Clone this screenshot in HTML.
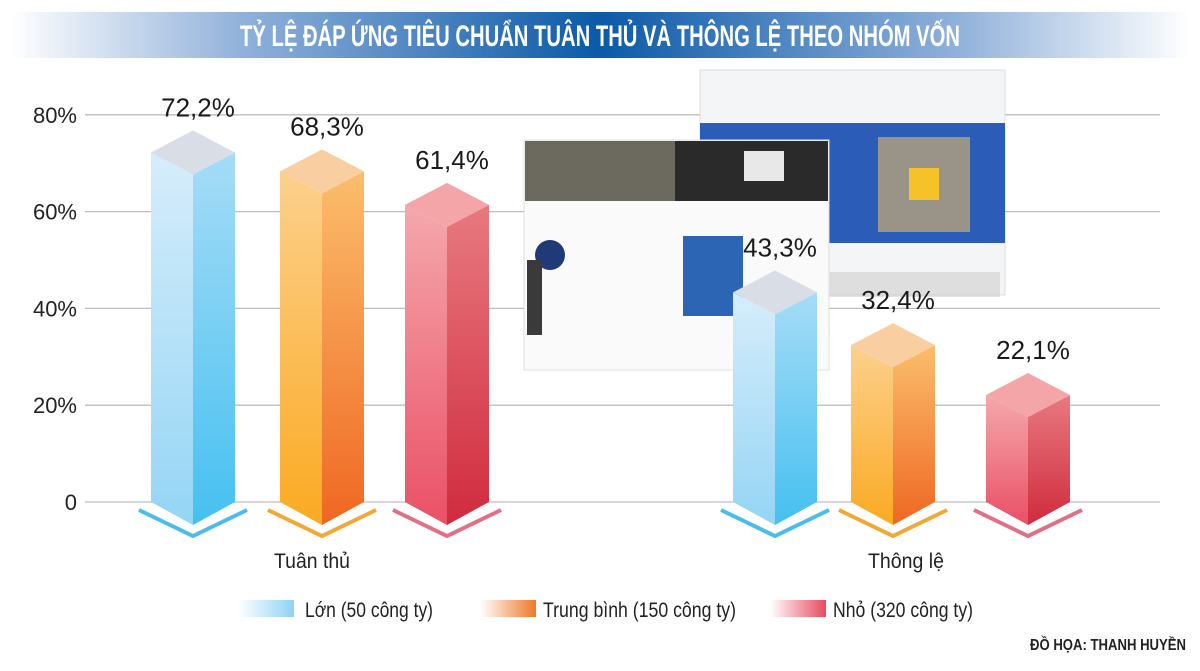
<!DOCTYPE html>
<html><head><meta charset="utf-8"><style>
html,body{margin:0;padding:0;background:#fff;}
svg{display:block;font-family:"Liberation Sans",sans-serif;}
</style></head><body>
<svg id="chart" width="1200" height="671" viewBox="0 0 1200 671" xmlns="http://www.w3.org/2000/svg">
<defs>
<linearGradient id="titleG" x1="0" x2="1" y1="0" y2="0">
<stop offset="0" stop-color="#ffffff"/><stop offset="0.2" stop-color="#8fb0da"/><stop offset="0.5" stop-color="#0b5aa8"/><stop offset="0.8" stop-color="#8fb0da"/><stop offset="1" stop-color="#ffffff"/></linearGradient>
<linearGradient id="bL0" x1="0" x2="0" y1="0" y2="1"><stop offset="0" stop-color="#d6edfb"/><stop offset="1" stop-color="#95d5f5"/></linearGradient>
<linearGradient id="bR0" x1="0" x2="0" y1="0" y2="1"><stop offset="0" stop-color="#a6dcf7"/><stop offset="1" stop-color="#45c0f0"/></linearGradient>
<linearGradient id="bL1" x1="0" x2="0" y1="0" y2="1"><stop offset="0" stop-color="#fcd08d"/><stop offset="1" stop-color="#fbaa22"/></linearGradient>
<linearGradient id="bR1" x1="0" x2="0" y1="0" y2="1"><stop offset="0" stop-color="#fbbe6c"/><stop offset="1" stop-color="#ef6722"/></linearGradient>
<linearGradient id="bL2" x1="0" x2="0" y1="0" y2="1"><stop offset="0" stop-color="#f5a8ac"/><stop offset="1" stop-color="#ea5066"/></linearGradient>
<linearGradient id="bR2" x1="0" x2="0" y1="0" y2="1"><stop offset="0" stop-color="#e8797f"/><stop offset="1" stop-color="#d02b3e"/></linearGradient>
<linearGradient id="lg0" x1="0" x2="1"><stop offset="0" stop-color="#fff"/><stop offset="1" stop-color="#8fd3f5"/></linearGradient>
<linearGradient id="lg1" x1="0" x2="1"><stop offset="0" stop-color="#fff"/><stop offset="1" stop-color="#f0782a"/></linearGradient>
<linearGradient id="lg2" x1="0" x2="1"><stop offset="0" stop-color="#fff"/><stop offset="1" stop-color="#e84a60"/></linearGradient>
</defs>
<rect x="10" y="12" width="1180" height="46" fill="url(#titleG)"/>
<text x="600" y="46" text-anchor="middle" fill="#fff" font-weight="bold" font-size="30" textLength="720" lengthAdjust="spacingAndGlyphs">TỶ LỆ ĐÁP ỨNG TIÊU CHUẨN TUÂN THỦ VÀ THÔNG LỆ THEO NHÓM VỐN</text>
<g id="grid"></g>
<g id="book">
<rect x="700" y="70" width="305" height="225" fill="#f4f5f7" stroke="#ddd"/>
<rect x="700" y="123" width="305" height="120" fill="#2a5cb8"/>
<rect x="878" y="137" width="92" height="95" fill="#9a9488"/>
<rect x="909" y="168" width="30" height="32" fill="#f5c22a"/>
<rect x="700" y="272" width="300" height="25" fill="#c8c8c8" opacity="0.5"/>
<rect x="524" y="140" width="305" height="230" fill="#fafafa" stroke="#ddd"/>
<rect x="525" y="141" width="150" height="60" fill="#6c6a5e"/>
<rect x="675" y="141" width="153" height="60" fill="#2b2a2a"/>
<rect x="744" y="151" width="40" height="30" fill="#e8e8e8"/>
<rect x="683" y="236" width="60" height="80" fill="#2d65b5"/>
<circle cx="550" cy="255" r="15" fill="#203a78"/>
<rect x="527" y="260" width="15" height="75" fill="#3a3a3a"/>
</g>
<g id="bars"></g>
<g id="ylabels"></g>
<text x="312" y="568" text-anchor="middle" font-size="21" fill="#222" textLength="76" lengthAdjust="spacingAndGlyphs">Tuân thủ</text>
<text x="906" y="568" text-anchor="middle" font-size="21" fill="#222" textLength="76" lengthAdjust="spacingAndGlyphs">Thông lệ</text>
<g>
<rect x="238" y="600" width="56" height="17" fill="url(#lg0)"/>
<text x="305" y="617" font-size="21" fill="#222" textLength="128" lengthAdjust="spacingAndGlyphs">Lớn (50 công ty)</text>
<rect x="480" y="600" width="56" height="17" fill="url(#lg1)"/>
<text x="543" y="617" font-size="21" fill="#222" textLength="193" lengthAdjust="spacingAndGlyphs">Trung bình (150 công ty)</text>
<rect x="770" y="600" width="56" height="17" fill="url(#lg2)"/>
<text x="833" y="617" font-size="21" fill="#222" textLength="140" lengthAdjust="spacingAndGlyphs">Nhỏ (320 công ty)</text>
</g>
<text x="1186" y="650" text-anchor="end" font-size="16" font-weight="bold" fill="#222" textLength="156" lengthAdjust="spacingAndGlyphs">ĐỒ HỌA: THANH HUYỀN</text>
</svg>
<script>
const categories = ["Tuân thủ", "Thông lệ"];
const seriesNames = ["Lớn (50 công ty)", "Trung bình (150 công ty)", "Nhỏ (320 công ty)"];
const seriesLon = [72.2, 43.3];
const seriesTrungBinh = [68.3, 32.4];
const seriesNho = [61.4, 22.1];
const valueLabels = [["72,2%", "43,3%"], ["68,3%", "32,4%"], ["61,4%", "22,1%"]];
const yTicks = [0, 20, 40, 60, 80];
const yTickLabels = ["0", "20%", "40%", "60%", "80%"];

const NS = "http://www.w3.org/2000/svg";
function y(v){ return 502 - v * 4.84; }
const groupCenters = [[193, 322, 447], [775, 893, 1028]];
function x(ci, si){ return groupCenters[ci][si]; }
function mk(tag, attrs, parent){ const e = document.createElementNS(NS, tag); for (const k in attrs) e.setAttribute(k, attrs[k]); parent.appendChild(e); return e; }

const grid = document.getElementById("grid");
const yl = document.getElementById("ylabels");
yTicks.forEach((t, i) => {
  const l = mk("line", {x1: 85, x2: 1160, y1: y(t), y2: y(t), stroke: "#bdbdbd", "stroke-width": 1.3}, grid);
  
  
  const tx = mk("text", {x: 77, y: y(t) + 8, "text-anchor": "end", "font-size": 22, fill: "#222"}, yl);
  tx.textContent = yTickLabels[i];
  
  
});

const series = [seriesLon, seriesTrungBinh, seriesNho];
const caps = ["#d9dde6", "#f9cfa2", "#f3a5a7"];
const chev = ["#4cbde8", "#f0a836", "#e07088"];
const bars = document.getElementById("bars");
const hw = 42, d = 22, base = y(0);
series.forEach((vals, si) => {
  vals.forEach((v, ci) => {
    const cx = x(ci, si), sy = y(v);
    const g = mk("g", {}, bars);
    
    
    mk("polyline", {points: `${cx-54},${base+8} ${cx},${base+34} ${cx+54},${base+8}`, fill: "none", stroke: chev[si], "stroke-width": 4}, g);
    mk("polygon", {points: `${cx-hw},${sy} ${cx},${sy+d} ${cx},${base+23} ${cx-hw},${base}`, fill: `url(#bL${si})`}, g);
    mk("polygon", {points: `${cx+hw},${sy} ${cx},${sy+d} ${cx},${base+23} ${cx+hw},${base}`, fill: `url(#bR${si})`}, g);
    mk("polygon", {points: `${cx},${sy-d} ${cx+hw},${sy} ${cx},${sy+d} ${cx-hw},${sy}`, fill: caps[si]}, g);
    const t = mk("text", {x: cx + 5, y: sy - d - 14, "text-anchor": "middle", "font-size": 26, fill: "#1a1a1a"}, bars);
    t.textContent = valueLabels[si][ci];
    
    
  });
});
</script>
</body></html>
